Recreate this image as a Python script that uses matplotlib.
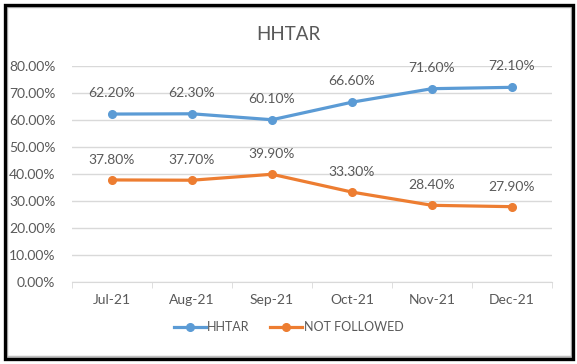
import matplotlib.pyplot as plt
from matplotlib.patches import Rectangle
from matplotlib.ticker import FuncFormatter

plt.rcParams['font.family'] = ['Lato', 'DejaVu Sans']

months = ["Jul-21", "Aug-21", "Sep-21", "Oct-21", "Nov-21", "Dec-21"]
hhtar = [62.2, 62.3, 60.1, 66.6, 71.6, 72.1]
not_followed = [37.8, 37.7, 39.9, 33.3, 28.4, 27.9]

blue = "#5B9BD5"
orange = "#ED7D31"
grey = "#595959"

W, H = 577, 364
fig = plt.figure(figsize=(W / 100, H / 100), dpi=100)
ax = fig.add_axes([72 / W, 1 - 282 / H, 480 / W, 216 / H])

x = list(range(len(months)))
ax.plot(x, hhtar, color=blue, lw=2.3, marker="o", ms=5.5, label="HHTAR", zorder=3)
ax.plot(x, not_followed, color=orange, lw=2.3, marker="o", ms=5.5, label="NOT FOLLOWED", zorder=3)

for xi, v in zip(x, hhtar):
    ax.annotate("{:.2f}%".format(v), (xi, v), xytext=(0, 15), textcoords="offset points",
                ha="center", va="center", fontsize=10, color=grey)
for xi, v in zip(x, not_followed):
    ax.annotate("{:.2f}%".format(v), (xi, v), xytext=(0, 14.5), textcoords="offset points",
                ha="center", va="center", fontsize=10, color=grey)

ax.set_xlim(-0.5, len(months) - 0.5)
ax.set_ylim(0, 80)
ax.set_yticks(range(0, 81, 10))
ax.yaxis.set_major_formatter(FuncFormatter(lambda v, p: "{:.2f}%".format(v)))
ax.set_xticks(x)
ax.set_xticklabels(months)
ax.set_xticks([i - 0.5 for i in range(len(months) + 1)], minor=True)
ax.grid(axis="y", color="#D9D9D9", lw=1)
ax.set_axisbelow(True)
for s in ["top", "right", "left"]:
    ax.spines[s].set_visible(False)
ax.spines["bottom"].set_color("#D9D9D9")
ax.tick_params(axis="y", length=0, pad=12, labelsize=10, labelcolor=grey)
ax.tick_params(axis="x", which="major", length=0, pad=9, labelsize=10, labelcolor=grey)
ax.tick_params(axis="x", which="minor", length=4, color="#D9D9D9", direction="out")

fig.text(0.5, 1 - 35 / H, "HHTAR", ha="center", va="center", fontsize=13.5, color=grey)

fig.legend(loc="center", bbox_to_anchor=(0.5, 1 - 327 / H), ncol=2, frameon=False,
           fontsize=9, labelcolor=grey, handlelength=2.6, columnspacing=1.6, handletextpad=0.1)

# Excel-style border with shadow
fig.patches.append(Rectangle((6 / W, 7 / H), 566 / W, 351 / H, transform=fig.transFigure,
                             fill=False, ec="#BFBFBF", lw=2.5))
fig.patches.append(Rectangle((5 / W, 5 / H), 568 / W, 354 / H, transform=fig.transFigure,
                             fill=False, ec="black", lw=2.4))

fig.savefig("out.png", dpi=100)
